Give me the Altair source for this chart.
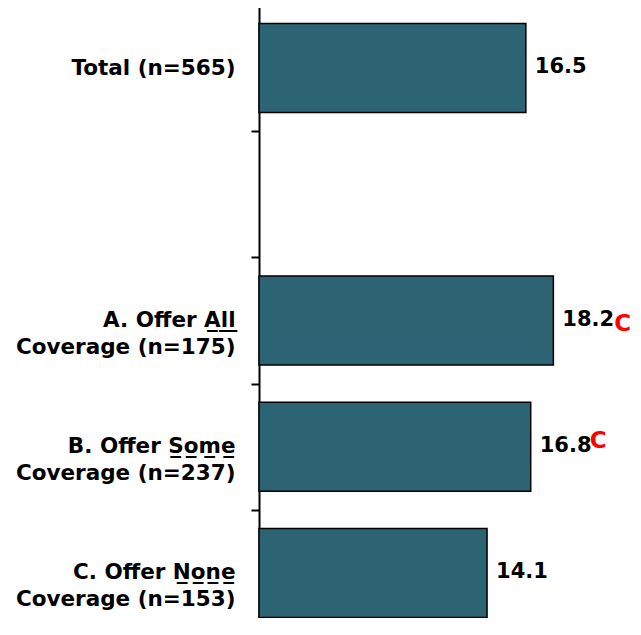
import altair as alt
import pandas as pd

# ---- data ----
categories = [
    "Total (n=565)",
    "A. Offer A\u0332l\u0332l\u0332|Coverage (n=175)",
    "B. Offer S\u0332o\u0332m\u0332e\u0332|Coverage (n=237)",
    "C. Offer N\u0332o\u0332n\u0332e\u0332|Coverage (n=153)",
]
axis_order = [categories[0], " ", categories[1], categories[2], categories[3]]
values = [16.5, 18.2, 16.8, 14.1]
value_labels = ["16.5", "18.2", "16.8", "14.1"]
sig_letters = ["", "C", "C", ""]

df = pd.DataFrame({
    "cat": categories,
    "value": values,
    "label": value_labels,
    "sig": sig_letters,
})

FONT = "DejaVu Sans"
BAR = "#2D6474"

y = alt.Y(
    "cat:N",
    scale=alt.Scale(domain=axis_order, range=[-3, 628], paddingInner=0, paddingOuter=0),
    axis=alt.Axis(
        title=None,
        labelExpr="split(datum.label, '|')",
        labelFont=FONT,
        labelFontSize=21.5,
        labelFontWeight="bold",
        labelColor="black",
        labelPadding=16,
        labelLineHeight=27,
        labelLimit=0,
        domainColor="black",
        domainWidth=2,
        tickColor="black",
        tickWidth=2,
        tickSize=8,
        tickBand="extent",
        grid=False,
    ),
)
x = alt.X("value:Q", scale=alt.Scale(domain=[0, 23], nice=False, zero=True), axis=None)

bars = alt.Chart(df).mark_bar(
    height=alt.RelativeBandSize(0.705),
    color=BAR,
    stroke="black",
    strokeWidth=1.5,
).encode(x=x, y=y)

nums = alt.Chart(df).mark_text(
    align="left", baseline="middle", dx=9, dy=-1,
    font=FONT, fontSize=21, fontWeight="bold", color="black",
).encode(x=x, y=y, text="label:N")

sig_a = alt.Chart(df).transform_filter(
    alt.datum.cat == categories[1]
).mark_text(
    align="left", baseline="middle", dx=61, dy=3,
    font=FONT, fontSize=23, fontWeight="bold", color="#FF0000",
).encode(x=x, y=y, text="sig:N")

sig_b = alt.Chart(df).transform_filter(
    alt.datum.cat == categories[2]
).mark_text(
    align="left", baseline="middle", dx=59, dy=-6,
    font=FONT, fontSize=23, fontWeight="bold", color="#FF0000",
).encode(x=x, y=y, text="sig:N")

chart = alt.layer(bars, nums, sig_a, sig_b).properties(
    width=372,
    height=610,
    autosize=alt.AutoSizeParams(type="none"),
    padding={"left": 251, "top": 0, "right": 2, "bottom": 0},
).configure_view(stroke=None)

chart.save("out.html", embed_options={"renderer": "svg", "actions": False})
